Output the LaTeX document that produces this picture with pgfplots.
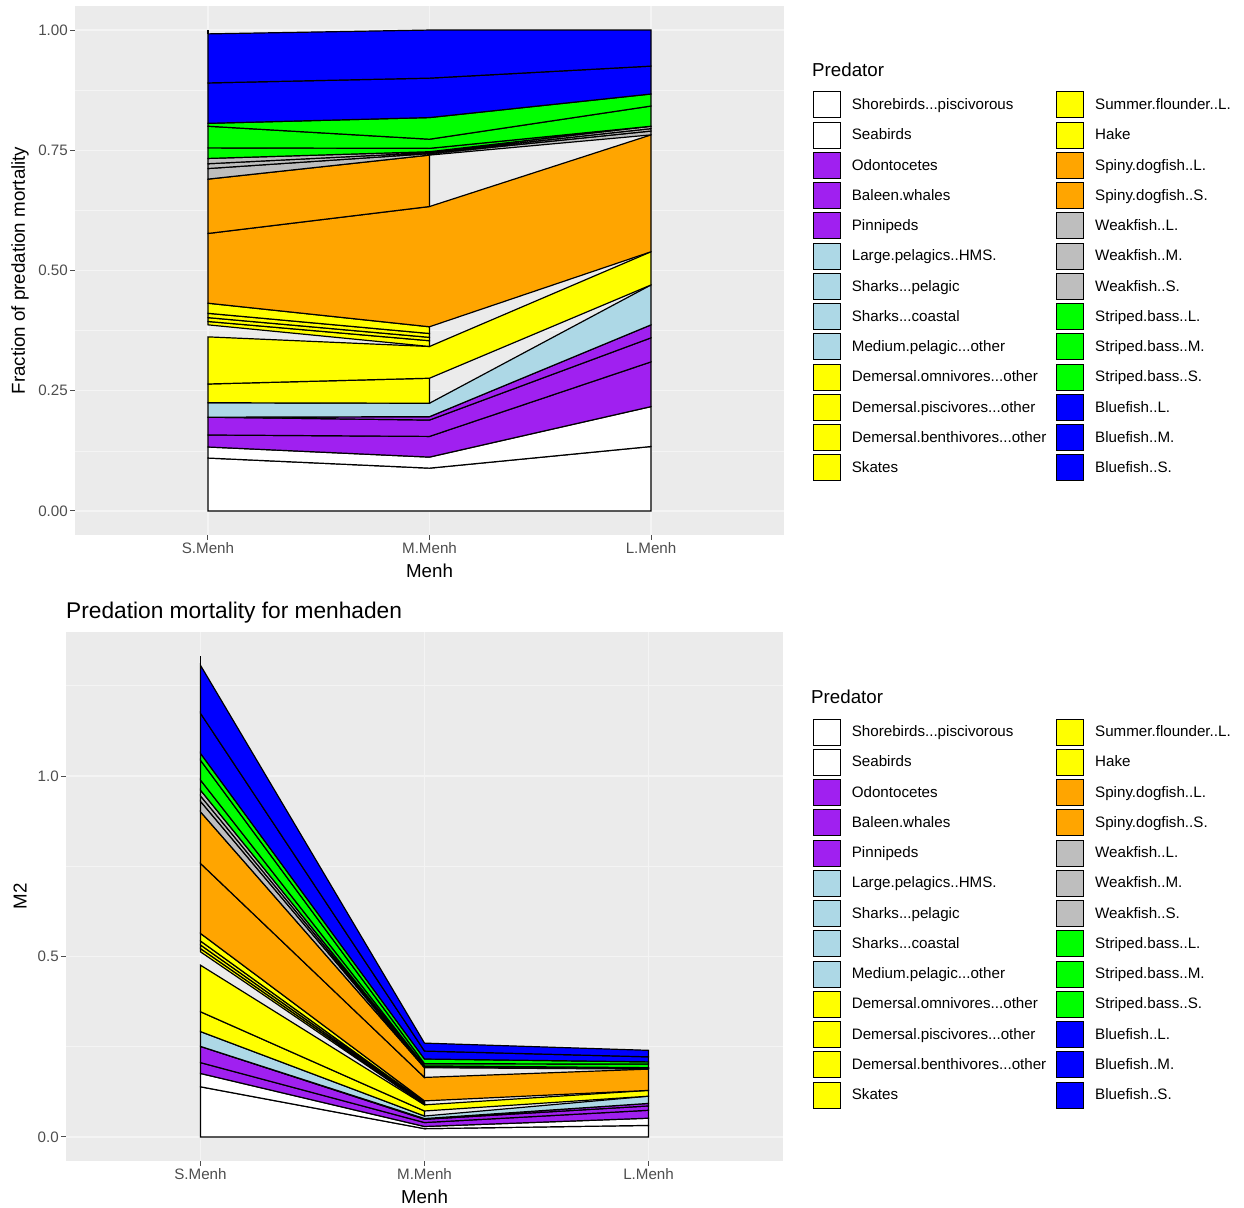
\documentclass[border=0pt]{standalone}
\usepackage{pgfplots}
\pgfplotsset{compat=1.18}
\usepackage{fontspec}
\setmainfont{Liberation Sans}
\definecolor{bg}{RGB}{235,235,235}
\definecolor{gridc}{RGB}{244,244,244}
\definecolor{rpurple}{RGB}{160,32,240}
\definecolor{rlb}{RGB}{173,216,230}
\definecolor{ryel}{RGB}{255,255,0}
\definecolor{rorg}{RGB}{255,165,0}
\definecolor{rgray}{RGB}{190,190,190}
\definecolor{rgreen}{RGB}{0,255,0}
\definecolor{rblue}{RGB}{0,0,255}
\definecolor{tk}{RGB}{77,77,77}
\pgfplotsset{
  lay/.style={fill=#1, draw=black, line width=1.2bp, forget plot},
  keysq/.style={legend image code/.code={\draw[fill=#1,draw=black,line width=0.9bp] (0bp,-13bp) rectangle (27bp,13bp);}},
  base/.style={scale only axis, xmin=-0.6, xmax=2.6,
    xtick={0,1,2}, xticklabels={S.Menh,M.Menh,L.Menh},
    axis background/.style={fill=bg}, axis line style={draw=none},
    tick pos=left, tick align=outside, major tick length=4.5bp, minor tick length=0pt,
    tick style={tk, line width=1bp},
    xmajorgrids, ymajorgrids, yminorgrids,
    major grid style={gridc, line width=1.2bp},
    minor grid style={gridc, line width=0.6bp},
    every tick label/.append style={font=\fontsize{15.2}{17}\selectfont, text=tk, inner sep=2.5bp},
    legend columns=2, legend cell align=left,
    legend style={anchor=north west, draw=none, fill=none, inner sep=0pt, outer sep=0pt,
      font=\fontsize{15.2}{17}\selectfont, row sep=3.35bp,
      nodes={inner sep=0pt},
      /tikz/every odd column/.append style={column sep=11bp},
      /tikz/every even column/.append style={column sep=10bp}},
  }
}
\newcommand{\predlegend}{%
\addlegendimage{keysq=white}\addlegendentry{Shorebirds...piscivorous}
\addlegendimage{keysq=ryel}\addlegendentry{Summer.flounder..L.}
\addlegendimage{keysq=white}\addlegendentry{Seabirds}
\addlegendimage{keysq=ryel}\addlegendentry{Hake}
\addlegendimage{keysq=rpurple}\addlegendentry{Odontocetes}
\addlegendimage{keysq=rorg}\addlegendentry{Spiny.dogfish..L.}
\addlegendimage{keysq=rpurple}\addlegendentry{Baleen.whales}
\addlegendimage{keysq=rorg}\addlegendentry{Spiny.dogfish..S.}
\addlegendimage{keysq=rpurple}\addlegendentry{Pinnipeds}
\addlegendimage{keysq=rgray}\addlegendentry{Weakfish..L.}
\addlegendimage{keysq=rlb}\addlegendentry{Large.pelagics..HMS.}
\addlegendimage{keysq=rgray}\addlegendentry{Weakfish..M.}
\addlegendimage{keysq=rlb}\addlegendentry{Sharks...pelagic}
\addlegendimage{keysq=rgray}\addlegendentry{Weakfish..S.}
\addlegendimage{keysq=rlb}\addlegendentry{Sharks...coastal}
\addlegendimage{keysq=rgreen}\addlegendentry{Striped.bass..L.}
\addlegendimage{keysq=rlb}\addlegendentry{Medium.pelagic...other}
\addlegendimage{keysq=rgreen}\addlegendentry{Striped.bass..M.}
\addlegendimage{keysq=ryel}\addlegendentry{Demersal.omnivores...other}
\addlegendimage{keysq=rgreen}\addlegendentry{Striped.bass..S.}
\addlegendimage{keysq=ryel}\addlegendentry{Demersal.piscivores...other}
\addlegendimage{keysq=rblue}\addlegendentry{Bluefish..L.}
\addlegendimage{keysq=ryel}\addlegendentry{Demersal.benthivores...other}
\addlegendimage{keysq=rblue}\addlegendentry{Bluefish..M.}
\addlegendimage{keysq=ryel}\addlegendentry{Skates}
\addlegendimage{keysq=rblue}\addlegendentry{Bluefish..S.}
}
\begin{document}
\begin{tikzpicture}
\useasboundingbox (0,0) rectangle (1244bp,-1208bp);
% ---------------- top: fraction ----------------
\begin{axis}[base, name=top, at={(75bp,-6bp)}, anchor=north west,
  width=709bp, height=529bp, ymin=-0.05, ymax=1.05,
  ytick={0,0.25,0.5,0.75,1}, yticklabels={0.00,0.25,0.50,0.75,1.00},
  minor ytick={0.125,0.375,0.625,0.875},
  xlabel={Menh}, ylabel={Fraction of predation mortality},
  every axis x label/.style={at={(axis description cs:0.5,-0.068)}, anchor=center, font=\fontsize{18.8}{21}\selectfont},
  every axis y label/.style={at={(axis description cs:-0.0776,0.5)}, rotate=90, anchor=center, font=\fontsize{18.8}{21}\selectfont},
  legend style={at={(1.0409,0.8384)}}]
\addplot[lay=white] coordinates {(0,0) (1,0) (2,0) (2,0.134) (1,0.089) (0,0.110)} --cycle;
\addplot[lay=white] coordinates {(0,0.110) (1,0.089) (2,0.134) (2,0.217) (1,0.112) (0,0.133)} --cycle;
\addplot[lay=rpurple] coordinates {(0,0.133) (1,0.112) (2,0.217) (2,0.310) (1,0.155) (0,0.158)} --cycle;
\addplot[lay=rpurple] coordinates {(0,0.158) (1,0.155) (2,0.310) (2,0.360) (1,0.189) (0,0.195)} --cycle;
\addplot[lay=rpurple] coordinates {(0,0.195) (1,0.189) (2,0.360) (2,0.387) (1,0.196) (0,0.195)} --cycle;
\addplot[lay=rlb] coordinates {(0,0.195) (1,0.196) (2,0.387) (2,0.470) (1,0.224) (0,0.225)} --cycle;
\addplot[lay=ryel] coordinates {(0,0.225) (1,0.224) (1,0.276) (0,0.264)} --cycle;
\addplot[lay=ryel] coordinates {(0,0.264) (1,0.276) (2,0.470) (2,0.539) (1,0.342) (0,0.362)} --cycle;
\addplot[lay=ryel] coordinates {(0,0.387) (1,0.342) (1,0.354) (0,0.394)} --cycle;
\addplot[lay=ryel] coordinates {(0,0.394) (1,0.354) (1,0.361) (0,0.402)} --cycle;
\addplot[lay=ryel] coordinates {(0,0.402) (1,0.361) (1,0.369) (0,0.411)} --cycle;
\addplot[lay=ryel] coordinates {(0,0.411) (1,0.369) (1,0.383) (0,0.432)} --cycle;
\addplot[lay=rorg] coordinates {(0,0.432) (1,0.383) (2,0.539) (2,0.782) (1,0.633) (0,0.577)} --cycle;
\addplot[lay=rorg] coordinates {(0,0.577) (1,0.633) (1,0.740) (0,0.690)} --cycle;
\addplot[lay=rgray] coordinates {(0,0.690) (1,0.740) (2,0.782) (2,0.790) (1,0.743) (0,0.712)} --cycle;
\addplot[lay=rgray] coordinates {(0,0.712) (1,0.743) (2,0.790) (2,0.795) (1,0.745) (0,0.722)} --cycle;
\addplot[lay=rgray] coordinates {(0,0.722) (1,0.745) (2,0.795) (2,0.800) (1,0.747) (0,0.733)} --cycle;
\addplot[lay=rgreen] coordinates {(0,0.733) (1,0.747) (2,0.800) (2,0.800) (1,0.754) (0,0.755)} --cycle;
\addplot[lay=rgreen] coordinates {(0,0.755) (1,0.754) (2,0.800) (2,0.842) (1,0.773) (0,0.800)} --cycle;
\addplot[lay=rgreen] coordinates {(0,0.800) (1,0.773) (2,0.842) (2,0.867) (1,0.818) (0,0.806)} --cycle;
\addplot[lay=rblue] coordinates {(0,0.806) (1,0.818) (2,0.867) (2,0.925) (1,0.900) (0,0.890)} --cycle;
\addplot[lay=rblue] coordinates {(0,0.890) (1,0.900) (2,0.925) (2,1.000) (1,1.000) (0,0.992)} --cycle;
\addplot[black, line width=1.2bp, forget plot] coordinates {(0,0.992) (0,1.000)};
\predlegend
\end{axis}
\node[anchor=west, inner sep=0pt, font=\fontsize{18.8}{21}\selectfont] at ([xshift=28bp,yshift=-64bp]top.north east) {Predator};
% ---------------- bottom: M2 ----------------
\begin{axis}[base, name=bot, at={(66bp,-632bp)}, anchor=north west,
  width=717bp, height=529bp, ymin=-0.0666, ymax=1.399,
  ytick={0,0.5,1}, yticklabels={0.0,0.5,1.0},
  minor ytick={0.25,0.75,1.25},
  xlabel={Menh}, ylabel={M2},
  title={Predation mortality for menhaden},
  title style={at={(axis description cs:0,1)}, anchor=base west, inner sep=0pt, yshift=8bp, font=\fontsize{22.8}{26}\selectfont},
  every axis x label/.style={at={(axis description cs:0.5,-0.068)}, anchor=center, font=\fontsize{18.8}{21}\selectfont},
  every axis y label/.style={at={(axis description cs:-0.0642,0.5)}, rotate=90, anchor=center, font=\fontsize{18.8}{21}\selectfont},
  legend style={at={(1.0418,0.8365)}}]
\addplot[lay=white] coordinates {(0,0) (1,0) (2,0) (2,0.032) (1,0.023) (0,0.139)} --cycle;
\addplot[lay=white] coordinates {(0,0.139) (1,0.023) (2,0.032) (2,0.052) (1,0.029) (0,0.176)} --cycle;
\addplot[lay=rpurple] coordinates {(0,0.176) (1,0.029) (2,0.052) (2,0.074) (1,0.040) (0,0.206)} --cycle;
\addplot[lay=rpurple] coordinates {(0,0.206) (1,0.040) (2,0.074) (2,0.086) (1,0.049) (0,0.251)} --cycle;
\addplot[lay=rpurple] coordinates {(0,0.251) (1,0.049) (2,0.086) (2,0.093) (1,0.051) (0,0.251)} --cycle;
\addplot[lay=rlb] coordinates {(0,0.251) (1,0.051) (2,0.093) (2,0.113) (1,0.058) (0,0.292)} --cycle;
\addplot[lay=ryel] coordinates {(0,0.292) (1,0.058) (1,0.072) (0,0.347)} --cycle;
\addplot[lay=ryel] coordinates {(0,0.347) (1,0.072) (2,0.113) (2,0.129) (1,0.089) (0,0.476)} --cycle;
\addplot[lay=ryel] coordinates {(0,0.513) (1,0.089) (1,0.092) (0,0.522)} --cycle;
\addplot[lay=ryel] coordinates {(0,0.522) (1,0.092) (1,0.094) (0,0.532)} --cycle;
\addplot[lay=ryel] coordinates {(0,0.532) (1,0.094) (1,0.096) (0,0.543)} --cycle;
\addplot[lay=ryel] coordinates {(0,0.543) (1,0.096) (1,0.100) (0,0.564)} --cycle;
\addplot[lay=rorg] coordinates {(0,0.564) (1,0.100) (2,0.129) (2,0.188) (1,0.165) (0,0.758)} --cycle;
\addplot[lay=rorg] coordinates {(0,0.758) (1,0.165) (1,0.192) (0,0.901)} --cycle;
\addplot[lay=rgray] coordinates {(0,0.901) (1,0.192) (2,0.188) (2,0.190) (1,0.193) (0,0.930)} --cycle;
\addplot[lay=rgray] coordinates {(0,0.930) (1,0.193) (2,0.190) (2,0.191) (1,0.194) (0,0.945)} --cycle;
\addplot[lay=rgray] coordinates {(0,0.945) (1,0.194) (2,0.191) (2,0.192) (1,0.195) (0,0.961)} --cycle;
\addplot[lay=rgreen] coordinates {(0,0.961) (1,0.195) (2,0.192) (2,0.192) (1,0.197) (0,0.989)} --cycle;
\addplot[lay=rgreen] coordinates {(0,0.989) (1,0.197) (2,0.192) (2,0.202) (1,0.203) (0,1.044)} --cycle;
\addplot[lay=rgreen] coordinates {(0,1.044) (1,0.203) (2,0.202) (2,0.208) (1,0.216) (0,1.063)} --cycle;
\addplot[lay=rblue] coordinates {(0,1.063) (1,0.216) (2,0.208) (2,0.222) (1,0.238) (0,1.174)} --cycle;
\addplot[lay=rblue] coordinates {(0,1.174) (1,0.238) (2,0.222) (2,0.240) (1,0.260) (0,1.307)} --cycle;
\addplot[black, line width=1.2bp, forget plot] coordinates {(0,1.307) (0,1.333)};
\predlegend
\end{axis}
\node[anchor=west, inner sep=0pt, font=\fontsize{18.8}{21}\selectfont] at ([xshift=28bp,yshift=-65bp]bot.north east) {Predator};
\end{tikzpicture}
\end{document}
